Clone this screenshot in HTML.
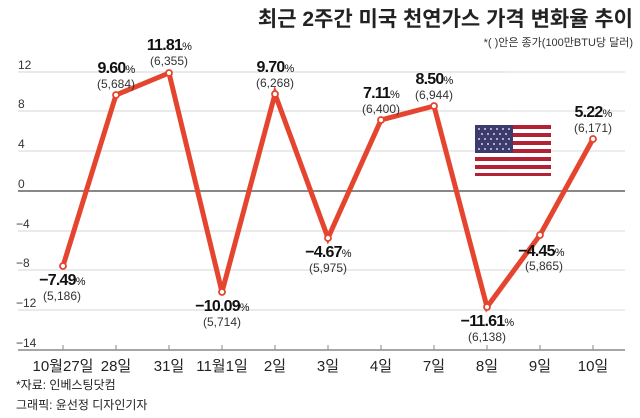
<!DOCTYPE html>
<html><head><meta charset="utf-8"><style>
body{margin:0;background:#fff;}
svg{display:block;font-family:"Liberation Sans","Noto Sans CJK KR",sans-serif;}
</style></head><body>
<svg width="640" height="418" viewBox="0 0 640 418">
<text x="633" y="26" text-anchor="end" font-size="21" font-weight="bold" fill="#222" font-family="Liberation Sans, Noto Sans CJK KR, sans-serif">최근 2주간 미국 천연가스 가격 변화율 추이</text>
<text x="633" y="46" text-anchor="end" font-size="11" fill="#333">*( )안은 종가(100만BTU당 달러)</text>
<g stroke="#e2e2e2" stroke-width="1.2">
<line x1="18" y1="72" x2="508" y2="72"/><line x1="18" y1="111" x2="508" y2="111"/>
<line x1="18" y1="151" x2="508" y2="151"/><line x1="18" y1="231" x2="508" y2="231"/>
<line x1="18" y1="270" x2="508" y2="270"/><line x1="18" y1="310" x2="508" y2="310"/>
<line x1="18" y1="72" x2="625" y2="72"/><line x1="18" y1="111" x2="625" y2="111"/>
<line x1="18" y1="151" x2="625" y2="151"/><line x1="18" y1="231" x2="625" y2="231"/>
<line x1="18" y1="270" x2="625" y2="270"/><line x1="18" y1="310" x2="625" y2="310"/>
</g>
<line x1="18" y1="191" x2="625" y2="191" stroke="#888" stroke-width="2"/>
<line x1="18" y1="350" x2="625" y2="350" stroke="#888" stroke-width="1.5"/>
<g font-size="12" fill="#333">
<text x="18" y="69">12</text><text x="18" y="108">8</text><text x="18" y="148">4</text>
<text x="18" y="188">0</text><text x="16" y="228">−4</text><text x="16" y="267">−8</text>
<text x="16" y="307">−12</text><text x="16" y="347">−14</text>
</g>
<g stroke="#888" stroke-width="1">
<line x1="63" y1="350" x2="63" y2="345"/><line x1="116" y1="350" x2="116" y2="345"/><line x1="169" y1="350" x2="169" y2="345"/><line x1="222" y1="350" x2="222" y2="345"/><line x1="275" y1="350" x2="275" y2="345"/><line x1="328" y1="350" x2="328" y2="345"/><line x1="381" y1="350" x2="381" y2="345"/><line x1="434" y1="350" x2="434" y2="345"/><line x1="487" y1="350" x2="487" y2="345"/><line x1="540" y1="350" x2="540" y2="345"/><line x1="593" y1="350" x2="593" y2="345"/>
</g>
<g font-size="15" fill="#222" text-anchor="middle">
<text x="63" y="371">10월27일</text><text x="116" y="371">28일</text><text x="169" y="371">31일</text><text x="222" y="371">11월1일</text><text x="275" y="371">2일</text><text x="328" y="371">3일</text><text x="381" y="371">4일</text><text x="434" y="371">7일</text><text x="487" y="371">8일</text><text x="540" y="371">9일</text><text x="593" y="371">10일</text>
</g>
<!-- flag -->
<g>
<rect x="475" y="125" width="76" height="51" fill="#fff"/>
<g fill="#b22234">
<rect x="475" y="125" width="76" height="4"/><rect x="475" y="133" width="76" height="4"/><rect x="475" y="141" width="76" height="4"/><rect x="475" y="149" width="76" height="4"/><rect x="475" y="157" width="76" height="4"/><rect x="475" y="165" width="76" height="4"/><rect x="475" y="173" width="76" height="3"/>
</g>
<rect x="475" y="125" width="38" height="28" fill="#3c3b6e"/>
<g fill="#fff">
<circle cx="479" cy="129" r="0.9"/><circle cx="485" cy="129" r="0.9"/><circle cx="491" cy="129" r="0.9"/><circle cx="497" cy="129" r="0.9"/><circle cx="503" cy="129" r="0.9"/><circle cx="509" cy="129" r="0.9"/>
<circle cx="482" cy="134" r="0.9"/><circle cx="488" cy="134" r="0.9"/><circle cx="494" cy="134" r="0.9"/><circle cx="500" cy="134" r="0.9"/><circle cx="506" cy="134" r="0.9"/>
<circle cx="479" cy="139" r="0.9"/><circle cx="485" cy="139" r="0.9"/><circle cx="491" cy="139" r="0.9"/><circle cx="497" cy="139" r="0.9"/><circle cx="503" cy="139" r="0.9"/><circle cx="509" cy="139" r="0.9"/>
<circle cx="482" cy="144" r="0.9"/><circle cx="488" cy="144" r="0.9"/><circle cx="494" cy="144" r="0.9"/><circle cx="500" cy="144" r="0.9"/><circle cx="506" cy="144" r="0.9"/>
<circle cx="479" cy="149" r="0.9"/><circle cx="485" cy="149" r="0.9"/><circle cx="491" cy="149" r="0.9"/><circle cx="497" cy="149" r="0.9"/><circle cx="503" cy="149" r="0.9"/><circle cx="509" cy="149" r="0.9"/>
</g>
</g>
<polyline points="63,266 116,95 169,73 222,292 275,94 328,238 381,120 434,106 487,307 540,235 593,139" fill="none" stroke="#e5452f" stroke-width="5" stroke-linejoin="miter"/>
<g fill="#fff" stroke="#e5452f" stroke-width="1.8">
<circle cx="63" cy="266" r="3"/><circle cx="116" cy="95" r="3"/><circle cx="169" cy="73" r="3"/><circle cx="222" cy="292" r="3"/><circle cx="275" cy="94" r="3"/><circle cx="328" cy="238" r="3"/><circle cx="381" cy="120" r="3"/><circle cx="434" cy="106" r="3"/><circle cx="487" cy="307" r="3"/><circle cx="540" cy="235" r="3"/><circle cx="593" cy="139" r="3"/>
</g>
<g text-anchor="middle" fill="#111">
<g font-size="16" font-weight="bold" letter-spacing="-0.8">
<text x="62" y="285">−7.49<tspan font-size="11" font-weight="normal">%</tspan></text>
<text x="116" y="73">9.60<tspan font-size="11" font-weight="normal">%</tspan></text>
<text x="169" y="50">11.81<tspan font-size="11" font-weight="normal">%</tspan></text>
<text x="222" y="311">−10.09<tspan font-size="11" font-weight="normal">%</tspan></text>
<text x="275" y="72">9.70<tspan font-size="11" font-weight="normal">%</tspan></text>
<text x="328" y="257">−4.67<tspan font-size="11" font-weight="normal">%</tspan></text>
<text x="381" y="98">7.11<tspan font-size="11" font-weight="normal">%</tspan></text>
<text x="434" y="84">8.50<tspan font-size="11" font-weight="normal">%</tspan></text>
<text x="487" y="326">−11.61<tspan font-size="11" font-weight="normal">%</tspan></text>
<text x="541" y="256">−4.45<tspan font-size="11" font-weight="normal">%</tspan></text>
<text x="593" y="117">5.22<tspan font-size="11" font-weight="normal">%</tspan></text>
</g>
<g font-size="12" fill="#333">
<text x="62" y="300">(5,186)</text>
<text x="116" y="88">(5,684)</text>
<text x="169" y="65">(6,355)</text>
<text x="222" y="326">(5,714)</text>
<text x="275" y="87">(6,268)</text>
<text x="328" y="272">(5,975)</text>
<text x="381" y="113">(6,400)</text>
<text x="434" y="99">(6,944)</text>
<text x="487" y="341">(6,138)</text>
<text x="544" y="270">(5,865)</text>
<text x="593" y="132">(6,171)</text>
</g>
</g>
<text x="16" y="389" font-size="12" fill="#222">*자료: 인베스팅닷컴</text>
<text x="16" y="409" font-size="12" fill="#222">그래픽: 윤선정 디자인기자</text>
</svg>
</body></html>
